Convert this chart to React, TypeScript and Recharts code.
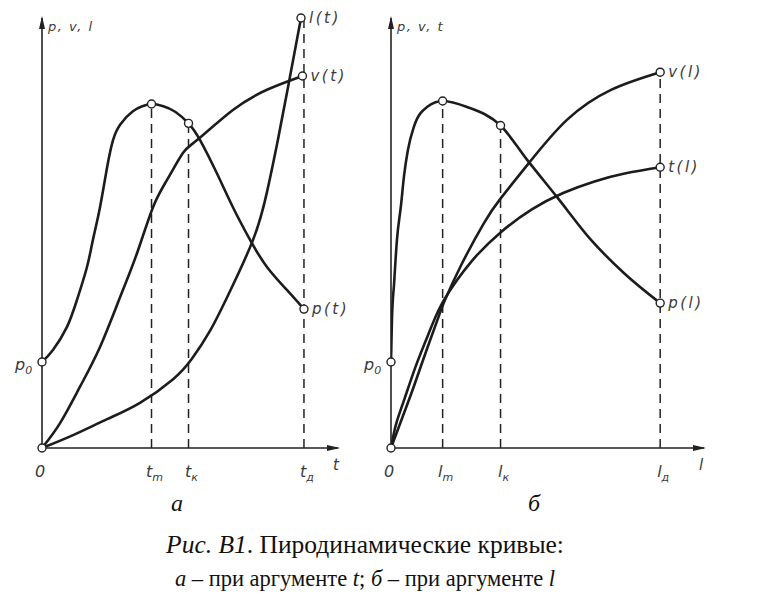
import React from "react";
import { LineChart, Line, XAxis, YAxis, ReferenceLine, ReferenceDot } from "recharts";

// ---------- Panel а: argument t ----------
const pT_x = [0, 3.7, 8.4, 11.8, 15.2, 17.2, 19.6, 22, 24, 26.5, 30.7, 34, 37, 41, 45, 49.5, 53.4, 59, 64.5, 70.3, 76, 82.8, 88.5];
const pT_y = [20, 22.8, 28.1, 34.4, 42.1, 48.4, 56, 65.3, 71.6, 75.3, 78.3, 79.5, 80, 79.5, 78.2, 75.5, 71.6, 64, 56, 48.4, 42.1, 36.7, 32.3];
const vT_x = [0, 6.1, 12.8, 19.6, 26.4, 32.1, 37.5, 42.2, 47.6, 52.4, 64.5, 76, 88];
const vT_y = [0, 5.8, 14.2, 23.5, 35.1, 45.3, 56, 62.3, 68.6, 71.6, 78.6, 83.3, 86.5];
const lT_x = [0, 10.5, 22, 33.1, 44.3, 50.7, 56.8, 62.5, 71.3, 76, 79.5, 83, 87.5];
const lT_y = [0, 3, 6.7, 10.5, 16, 20.8, 27.3, 35, 48.4, 59.5, 71, 83.5, 100];
const ticksA = [0, 37, 49.5, 88.5];
const tickMainA = ["0", "t", "t", "t"];
const tickSubA = ["", "m", "к", "д"];
const namesA = ["p(t)", "v(t)", "l(t)"];
const axisNamesA = ["p, v, l", "t"];
const curvesA = ["natural", "natural", "natural"];

// ---------- Panel б: argument l ----------
const pL_x = [0, 0.3, 1.0, 1.9, 3.2, 4.2, 5.4, 7.3, 11.5, 16.5, 24.3, 35, 43.5, 53, 63.9, 74.4, 86];
const pL_y = [20, 29.8, 38.4, 48.4, 56.5, 63.5, 69.3, 74.7, 79.3, 80.7, 79.3, 75, 67, 58.4, 48.4, 40.7, 33.7];
const vL_x = [0, 6.4, 10.5, 14.7, 17, 22.4, 29.7, 35.1, 44.1, 56.2, 70.3, 86];
const vL_y = [0, 12.5, 21, 29.5, 34, 42.5, 52.3, 58.1, 66.3, 76.3, 83.3, 87.4];
const tL_x = [0, 1.6, 4.2, 8.3, 12.8, 17, 25.6, 35.1, 45, 55, 65, 75, 86];
const tL_y = [0, 5.5, 11.2, 19.8, 28, 34.5, 43.3, 50.2, 55.5, 59.3, 62, 63.9, 65.3];
const ticksB = [0, 16.5, 35, 86];
const tickMainB = ["0", "l", "l", "l"];
const tickSubB = ["", "m", "к", "д"];
const namesB = ["p(l)", "v(l)", "t(l)"];
const axisNamesB = ["p, v, t", "l"];
const curvesB = ["monotone", "natural", "natural"];

// ---------- Captions ----------
const panelLetters = ["а", "б"];
const captionItalic = "Рис. В1";
const captionRest = ". Пиродинамические кривые:";
const caption2 = ["а", " – при аргументе ", "t", "; ", "б", " – при аргументе ", "l"];

const zip = (xs: number[], ys: number[]) => xs.map((x, i) => ({ x, y: ys[i] }));
const last = (a: number[]) => a[a.length - 1];

const INK = "#222";
const LBL = "#3a3a3a";
const LFONT = "'DejaVu Sans', sans-serif";

const circle = (cx: number, cy: number) => (
  <circle cx={cx} cy={cy} r={4} fill="#fff" stroke={INK} strokeWidth={1.4} />
);

const Dot = (props: any) => circle(props.cx, props.cy);

const labeledDot = (text: string) => (props: any) => {
  const { cx, cy } = props;
  return (
    <g>
      {circle(cx, cy)}
      <text x={cx + 8} y={cy + 5} fontFamily={LFONT} fontStyle="italic" fontSize={15} fill={LBL} letterSpacing={2.5}>
        {text}
      </text>
    </g>
  );
};

const p0Dot = (props: any) => {
  const { cx, cy } = props;
  return (
    <g>
      {circle(cx, cy)}
      <text x={cx - 27} y={cy + 8} fontFamily={LFONT} fontStyle="italic" fontSize={16} fill={LBL}>
        p<tspan dy={4} fontSize={11}>0</tspan>
      </text>
    </g>
  );
};

const upArrow = (label: string) => (props: any) => {
  const { cx, cy } = props;
  return (
    <g>
      <path d={`M${cx},${cy - 2} L${cx - 3},${cy + 11} L${cx + 3},${cy + 11} Z`} fill={INK} />
      <text x={cx + 6} y={cy + 13} fontFamily={LFONT} fontStyle="italic" fontSize={13} fill={LBL} letterSpacing={1.5}>
        {label}
      </text>
    </g>
  );
};

const rightArrow = (label: string) => (props: any) => {
  const { cx, cy } = props;
  return (
    <g>
      <path d={`M${cx + 2},${cy} L${cx - 11},${cy - 3} L${cx - 11},${cy + 3} Z`} fill={INK} />
      <text x={cx - 5} y={cy + 22} fontFamily={LFONT} fontStyle="italic" fontSize={15} fill={LBL}>
        {label}
      </text>
    </g>
  );
};

const makeTick = (ticks: number[], mains: string[], subs: string[]) => (props: any) => {
  const { x, y, payload } = props;
  const i = ticks.indexOf(payload.value);
  if (i < 0) return <g />;
  return (
    <text x={x + (subs[i] ? 3 : -2)} y={y + 21} textAnchor="middle" fontFamily={LFONT} fontStyle="italic" fontSize={16} fill={LBL}>
      {mains[i]}
      {subs[i] ? (
        <tspan dy={4} fontSize={11}>
          {subs[i]}
        </tspan>
      ) : null}
    </text>
  );
};

type PanelProps = {
  left: number;
  width: number;
  margin: { top: number; right: number; bottom: number; left: number };
  series: { x: number[]; y: number[] }[];
  curves: string[];
  names: string[];
  ticks: number[];
  tickMain: string[];
  tickSub: string[];
  axisNames: string[];
  peakIdx: number;
  kIdx: number;
  topSeries: number;
};

const Panel = (pp: PanelProps) => {
  const [pS, s2, s3] = pp.series;
  const xm = pp.ticks[1];
  const xk = pp.ticks[2];
  const xe = pp.ticks[3];
  const pPeak = pS.y[pp.peakIdx];
  const pK = pS.y[pp.kIdx];
  const topY = last(pp.series[pp.topSeries].y);
  return (
    <div style={{ position: "absolute", left: pp.left, top: 0 }}>
      <LineChart width={pp.width} height={500} margin={pp.margin}>
        <XAxis
          type="number"
          dataKey="x"
          domain={[0, 100]}
          ticks={pp.ticks}
          interval={0}
          tickLine={false}
          axisLine={{ stroke: INK, strokeWidth: 1.6 }}
          tick={makeTick(pp.ticks, pp.tickMain, pp.tickSub)}
          height={30}
          allowDataOverflow
        />
        <YAxis
          type="number"
          dataKey="y"
          domain={[0, 100]}
          tick={false}
          tickLine={false}
          axisLine={{ stroke: INK, strokeWidth: 1.6 }}
          width={1}
          allowDataOverflow
        />
        <ReferenceLine segment={[{ x: xm, y: 0 }, { x: xm, y: pPeak }]} stroke={INK} strokeWidth={1.5} strokeDasharray="9 6" />
        <ReferenceLine segment={[{ x: xk, y: 0 }, { x: xk, y: pK }]} stroke={INK} strokeWidth={1.5} strokeDasharray="9 6" />
        <ReferenceLine segment={[{ x: xe, y: 0 }, { x: xe, y: topY }]} stroke={INK} strokeWidth={1.5} strokeDasharray="9 6" />
        {pp.series.map((s, i) => (
          <Line
            key={i}
            data={zip(s.x, s.y)}
            dataKey="y"
            type={pp.curves[i] as any}
            stroke="#1c1c1c"
            strokeWidth={2.6}
            dot={false}
            activeDot={false}
            isAnimationActive={false}
          />
        ))}
        <ReferenceDot x={0} y={100} r={0} shape={upArrow(pp.axisNames[0])} />
        <ReferenceDot x={100} y={0} r={0} shape={rightArrow(pp.axisNames[1])} />
        <ReferenceDot x={pS.x[0]} y={pS.y[0]} r={4} shape={p0Dot} />
        <ReferenceDot x={0} y={0} r={4} shape={Dot} />
        <ReferenceDot x={pS.x[pp.peakIdx]} y={pPeak} r={4} shape={Dot} />
        <ReferenceDot x={pS.x[pp.kIdx]} y={pK} r={4} shape={Dot} />
        <ReferenceDot x={last(pS.x)} y={last(pS.y)} r={4} shape={labeledDot(pp.names[0])} />
        <ReferenceDot x={last(s2.x)} y={last(s2.y)} r={4} shape={labeledDot(pp.names[1])} />
        <ReferenceDot x={last(s3.x)} y={last(s3.y)} r={4} shape={labeledDot(pp.names[2])} />
      </LineChart>
    </div>
  );
};

const SERIF = "'Liberation Serif', 'Times New Roman', serif";

export default function App() {
  return (
    <div style={{ position: "absolute", left: 0, top: 0, width: 768, height: 605, background: "#fff", overflow: "hidden" }}>
      <Panel
        left={0}
        width={384}
        margin={{ top: 18, right: 46, bottom: 22, left: 41 }}
        series={[
          { x: pT_x, y: pT_y },
          { x: vT_x, y: vT_y },
          { x: lT_x, y: lT_y },
        ]}
        curves={curvesA}
        names={namesA}
        ticks={ticksA}
        tickMain={tickMainA}
        tickSub={tickSubA}
        axisNames={axisNamesA}
        peakIdx={12}
        kIdx={15}
        topSeries={2}
      />
      <Panel
        left={350}
        width={418}
        margin={{ top: 18, right: 64, bottom: 22, left: 40 }}
        series={[
          { x: pL_x, y: pL_y },
          { x: vL_x, y: vL_y },
          { x: tL_x, y: tL_y },
        ]}
        curves={curvesB}
        names={namesB}
        ticks={ticksB}
        tickMain={tickMainB}
        tickSub={tickSubB}
        axisNames={axisNamesB}
        peakIdx={9}
        kIdx={11}
        topSeries={1}
      />
      <svg width={768} height={605} style={{ position: "absolute", left: 0, top: 0, pointerEvents: "none" }}>
        <text x={177} y={511} textAnchor="middle" fontFamily={SERIF} fontStyle="italic" fontSize={24} fill="#111">
          {panelLetters[0]}
        </text>
        <text x={534} y={511} textAnchor="middle" fontFamily={SERIF} fontStyle="italic" fontSize={24} fill="#111">
          {panelLetters[1]}
        </text>
        <text x={365} y={553} textAnchor="middle" fontFamily={SERIF} fontSize={25.5} fill="#111">
          <tspan fontStyle="italic">{captionItalic}</tspan>
          {captionRest}
        </text>
        <text x={365} y={586} textAnchor="middle" fontFamily={SERIF} fontSize={22.5} fill="#111">
          {caption2.map((s, i) => (
            <tspan key={i} fontStyle={i === 0 || i === 2 || i === 4 || i === 6 ? "italic" : "normal"}>
              {s}
            </tspan>
          ))}
        </text>
      </svg>
    </div>
  );
}
